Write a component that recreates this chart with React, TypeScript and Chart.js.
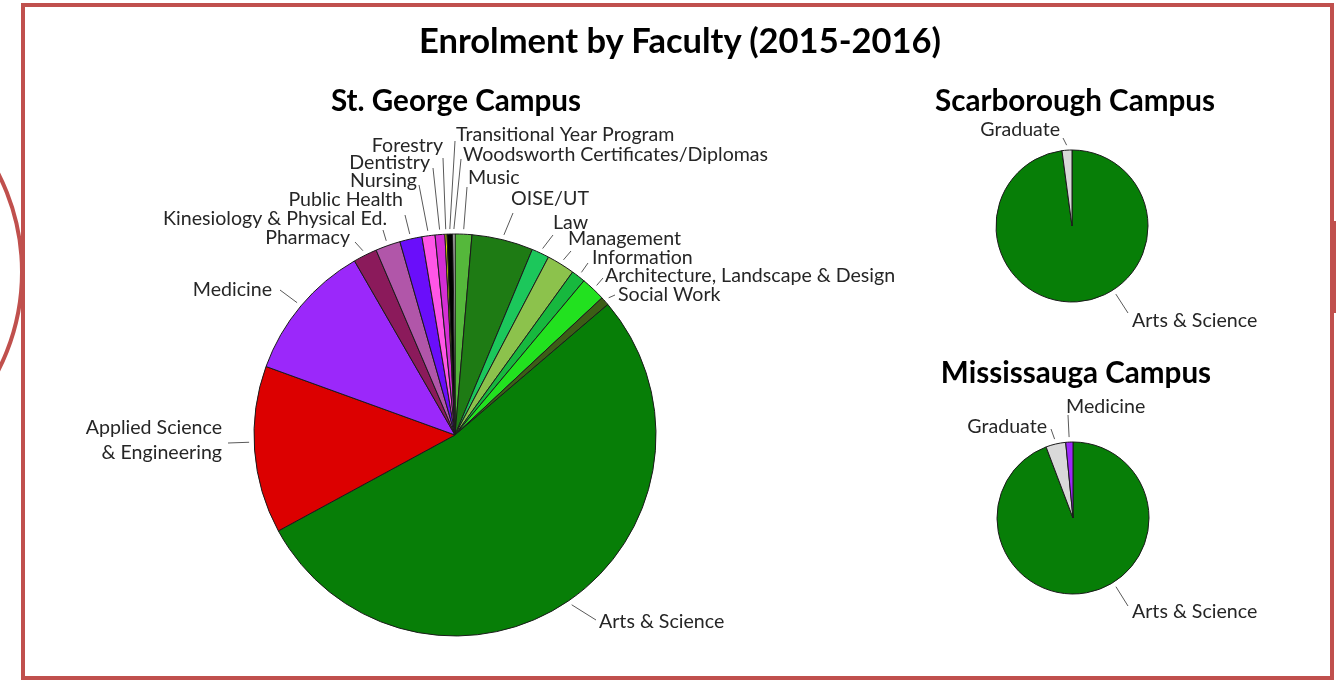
import React, { useEffect, useRef } from "react";
import { Chart, registerables } from "chart.js";

Chart.register(...registerables);

// ---------- DATA ----------
const stGeorgeFaculties = [
  "Music",
  "OISE/UT",
  "Law",
  "Management",
  "Information",
  "Architecture, Landscape & Design",
  "Social Work",
  "Arts & Science",
  "Applied Science\n& Engineering",
  "Medicine",
  "Pharmacy",
  "Kinesiology & Physical Ed.",
  "Public Health",
  "Nursing",
  "Dentistry",
  "Forestry",
  "Transitional Year Program",
  "Woodsworth Certificates/Diplomas",
];
const stGeorgeEnrolment = [810, 2960, 850, 1350, 680, 1180, 420, 32000, 8070, 6680, 1150, 1200, 1070, 630, 470, 100, 280, 100];

const scarboroughFaculties = ["Arts & Science", "Graduate"];
const scarboroughEnrolment = [11600, 250];

const mississaugaFaculties = ["Arts & Science", "Graduate", "Medicine"];
const mississaugaEnrolment = [12920, 580, 210];

// ---------- STYLES ----------
const stGeorgeColors = [
  "#55B83B", "#1E7B14", "#1CC75B", "#8CC24C", "#17B83E", "#22E11F", "#3C5E16",
  "#077E07", "#DC0000", "#9B28FA", "#8B1A5B", "#B156A9", "#6A0EFA", "#FF56E6",
  "#D42ED4", "#E6E600", "#000000", "#F2F2F2",
];
const scarboroughColors = ["#077E07", "#D9D9D9"];
const mississaugaColors = ["#077E07", "#D9D9D9", "#9B28FA"];

const FRAME_RED = "#C0504D";
const FONT = "Lato, 'Open Sans', sans-serif";
const LABEL_FONT_SIZE = 19.6;

// label layout, relative to pie centre: text anchor (tx, ty), alignment, leader label end (lx, ly)
type LabelLayout = { tx: number; ty: number; align: "left" | "right"; lx: number; ly: number; toward?: boolean };

const stGeorgeLabelLayout: LabelLayout[] = [
  { tx: 13, ty: -257, align: "left", lx: 12, ly: -248 },
  { tx: 56, ty: -236, align: "left", lx: 58, ly: -222 },
  { tx: 98, ty: -212, align: "left", lx: 98, ly: -200 },
  { tx: 113, ty: -196, align: "left", lx: 116, ly: -184 },
  { tx: 137, ty: -177, align: "left", lx: 133, ly: -172 },
  { tx: 150, ty: -159, align: "left", lx: 148, ly: -157 },
  { tx: 163, ty: -140, align: "left", lx: 160, ly: -140 },
  { tx: 144, ty: 187, align: "left", lx: 141, ly: 185 },
  { tx: -233, ty: 5, align: "right", lx: -227, ly: 8, toward: true },
  { tx: -183, ty: -145, align: "right", lx: -175, ly: -145 },
  { tx: -105, ty: -197, align: "right", lx: -100, ly: -193 },
  { tx: -68, ty: -216, align: "right", lx: -72, ly: -205 },
  { tx: -52, ty: -235, align: "right", lx: -50, ly: -220 },
  { tx: -38, ty: -254, align: "right", lx: -36, ly: -250 },
  { tx: -25, ty: -272, align: "right", lx: -22, ly: -267 },
  { tx: -12, ty: -289, align: "right", lx: -12, ly: -277 },
  { tx: 1, ty: -300, align: "left", lx: 0, ly: -294 },
  { tx: 8, ty: -280, align: "left", lx: 6, ly: -276 },
];
const scarboroughLabelLayout: LabelLayout[] = [
  { tx: 60, ty: 95, align: "left", lx: 56, ly: 87, toward: true },
  { tx: -12, ty: -96, align: "right", lx: -9, ly: -88 },
];
const mississaugaLabelLayout: LabelLayout[] = [
  { tx: 59, ty: 94, align: "left", lx: 55, ly: 88, toward: true },
  { tx: -26, ty: -91, align: "right", lx: -22, ly: -89 },
  { tx: -7, ty: -111, align: "left", lx: -5, ly: -103 },
];

const labelPlugin = {
  id: "facultyLabels",
  afterDraw(chart: any, _args: any, opts: any) {
    const layout: LabelLayout[] = opts.layout || [];
    const gap: number = opts.gap ?? 5;
    const meta = chart.getDatasetMeta(0);
    const labels: string[] = chart.data.labels;
    const ctx: CanvasRenderingContext2D = chart.ctx;
    ctx.save();
    meta.data.forEach((arc: any, i: number) => {
      const L = layout[i];
      if (!L) return;
      const p = arc.getProps(["x", "y", "startAngle", "endAngle", "outerRadius"], true);
      const lx = p.x + L.lx;
      const ly = p.y + L.ly;
      let ang = (p.startAngle + p.endAngle) / 2;
      if (L.toward) ang = Math.atan2(L.ly, L.lx);
      const px = p.x + Math.cos(ang) * (p.outerRadius + gap);
      const py = p.y + Math.sin(ang) * (p.outerRadius + gap);
      ctx.strokeStyle = "#595959";
      ctx.lineWidth = 1;
      ctx.beginPath();
      ctx.moveTo(lx, ly);
      ctx.lineTo(px, py);
      ctx.stroke();
      ctx.fillStyle = "#262626";
      ctx.font = `${LABEL_FONT_SIZE}px ${FONT}`;
      ctx.textAlign = L.align;
      ctx.textBaseline = "middle";
      const lines = String(labels[i]).split("\n");
      const lh = 25.5;
      const y0 = p.y + L.ty - ((lines.length - 1) * lh) / 2;
      lines.forEach((line, k) => ctx.fillText(line, p.x + L.tx, y0 + k * lh));
    });
    ctx.restore();
  },
};

type PieProps = {
  labels: string[];
  values: number[];
  colors: string[];
  radius: number;
  padding: { left: number; right: number; top: number; bottom: number };
  layout: LabelLayout[];
};

function PieCanvas({ labels, values, colors, radius, padding, layout }: PieProps) {
  const ref = useRef<HTMLCanvasElement>(null);
  useEffect(() => {
    if (!ref.current) return;
    const chart = new Chart(ref.current, {
      type: "pie",
      data: {
        labels,
        datasets: [
          {
            data: values,
            backgroundColor: colors,
            borderColor: "#1a1a1a",
            borderWidth: 1,
          },
        ],
      },
      options: {
        responsive: false,
        animation: false,
        events: [],
        radius,
        layout: { padding },
        plugins: {
          legend: { display: false },
          title: { display: false },
          tooltip: { enabled: false },
          facultyLabels: { layout, gap: 5 },
        } as any,
      },
      plugins: [labelPlugin],
    });
    return () => chart.destroy();
  }, []);
  return (
    <canvas
      ref={ref}
      width={1336}
      height={680}
      style={{ position: "absolute", left: 0, top: 0, width: 1336, height: 680 }}
    />
  );
}

const titleStyle = (cx: number, cy: number, size: number): React.CSSProperties => ({
  position: "absolute",
  left: cx,
  top: cy,
  transform: "translate(-50%, -50%)",
  fontFamily: FONT,
  fontWeight: 700,
  fontSize: size,
  lineHeight: 1,
  whiteSpace: "nowrap",
  color: "#000",
});

export default function App() {
  return (
    <div
      style={{
        position: "fixed",
        left: 0,
        top: 0,
        width: 1336,
        height: 680,
        background: "#fff",
        overflow: "hidden",
      }}
    >
      <svg width={1336} height={680} style={{ position: "absolute", left: 0, top: 0 }}>
        <circle cx={-194} cy={272} r={216} fill="none" stroke={FRAME_RED} strokeWidth={4} />
        <rect x={1329} y={221} width={7} height={92} fill={FRAME_RED} />
      </svg>
      <div
        style={{
          position: "absolute",
          left: 21,
          top: 3,
          width: 1313,
          height: 677,
          boxSizing: "border-box",
          border: `4px solid ${FRAME_RED}`,
          background: "#fff",
        }}
      />
      <PieCanvas
        labels={stGeorgeFaculties}
        values={stGeorgeEnrolment}
        colors={stGeorgeColors}
        radius={201}
        padding={{ left: 0, right: 426, top: 190, bottom: 0 }}
        layout={stGeorgeLabelLayout}
      />
      <PieCanvas
        labels={scarboroughFaculties}
        values={scarboroughEnrolment}
        colors={scarboroughColors}
        radius={76}
        padding={{ left: 872, right: 64, top: 26, bottom: 254 }}
        layout={scarboroughLabelLayout}
      />
      <PieCanvas
        labels={mississaugaFaculties}
        values={mississaugaEnrolment}
        colors={mississaugaColors}
        radius={76}
        padding={{ left: 873, right: 63, top: 368, bottom: 12 }}
        layout={mississaugaLabelLayout}
      />
      <div style={titleStyle(680, 40, 34.5)}>Enrolment by Faculty (2015-2016)</div>
      <div style={titleStyle(456, 100, 29.6)}>St. George Campus</div>
      <div style={titleStyle(1075, 100, 29.6)}>Scarborough Campus</div>
      <div style={titleStyle(1076, 372, 29.6)}>Mississauga Campus</div>
    </div>
  );
}
